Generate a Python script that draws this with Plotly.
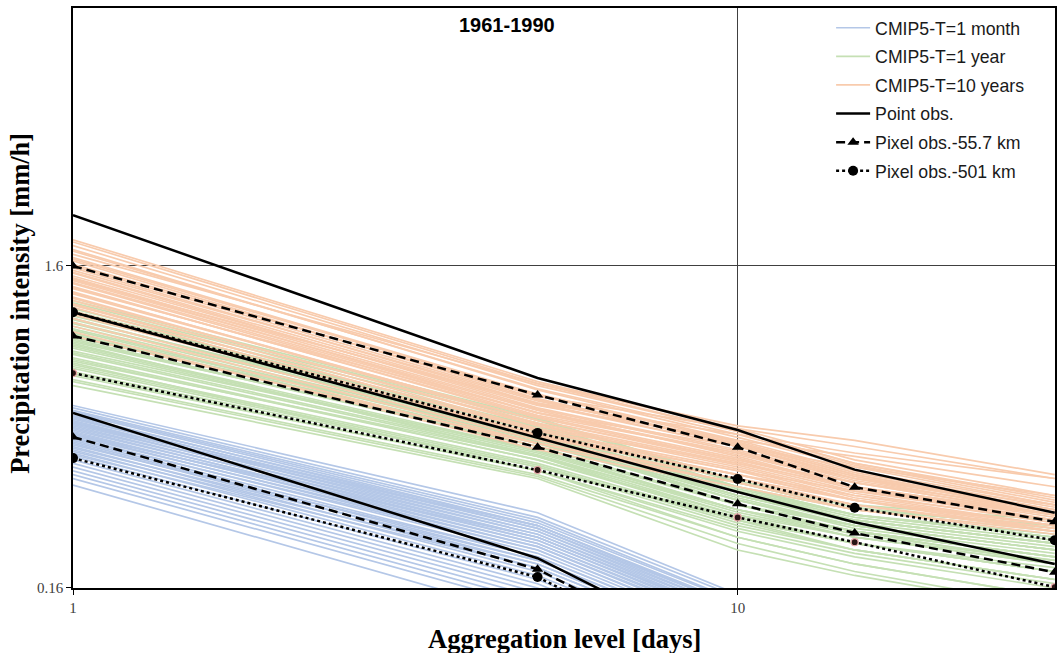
import plotly.graph_objects as go

# Aggregation levels [days]
agg_days = [1, 5, 10, 15, 30]
agg_days_month = [1, 5, 10]

# CMIP5 ensemble members, precipitation intensity [mm/h] at each aggregation level
cmip5_month = [
    [0.59, 0.274, 0.153], [0.57, 0.26, 0.146], [0.56, 0.25, 0.140], [0.55, 0.245, 0.137],
    [0.54, 0.24, 0.134], [0.53, 0.235, 0.131], [0.52, 0.23, 0.129], [0.51, 0.225, 0.126],
    [0.50, 0.22, 0.123], [0.49, 0.215, 0.120], [0.48, 0.21, 0.117], [0.47, 0.205, 0.115],
    [0.46, 0.20, 0.112], [0.455, 0.195, 0.109], [0.45, 0.19, 0.106], [0.44, 0.185, 0.104],
    [0.43, 0.18, 0.101], [0.42, 0.175, 0.098], [0.41, 0.17, 0.095], [0.40, 0.165, 0.092],
    [0.39, 0.16, 0.090], [0.38, 0.155, 0.087], [0.37, 0.15, 0.084], [0.36, 0.145, 0.081],
    [0.35, 0.14, 0.078], [0.334, 0.13, 0.073], [0.52, 0.25, 0.140], [0.48, 0.23, 0.129],
    [0.58, 0.265, 0.150], [0.565, 0.255, 0.145], [0.545, 0.25, 0.142], [0.535, 0.245, 0.140],
    [0.525, 0.24, 0.137], [0.515, 0.235, 0.134], [0.505, 0.23, 0.131], [0.495, 0.225, 0.128],
    [0.485, 0.22, 0.125], [0.475, 0.215, 0.122], [0.465, 0.21, 0.118], [0.445, 0.20, 0.113],
    [0.435, 0.195, 0.110], [0.425, 0.19, 0.107], [0.415, 0.185, 0.104],
]
cmip5_year = [
    [1.25, 0.54, 0.34, 0.28, 0.25], [1.21, 0.53, 0.34, 0.28, 0.24], [1.18, 0.52, 0.33, 0.27, 0.23],
    [1.15, 0.50, 0.33, 0.27, 0.23], [1.12, 0.51, 0.34, 0.29, 0.26], [1.09, 0.49, 0.32, 0.26, 0.22],
    [1.06, 0.48, 0.31, 0.26, 0.22], [1.04, 0.47, 0.32, 0.27, 0.23], [1.01, 0.46, 0.30, 0.25, 0.21],
    [0.99, 0.47, 0.31, 0.26, 0.22], [0.97, 0.45, 0.30, 0.25, 0.21], [0.95, 0.44, 0.29, 0.24, 0.20],
    [0.93, 0.45, 0.31, 0.26, 0.22], [0.91, 0.43, 0.28, 0.24, 0.20], [0.89, 0.42, 0.28, 0.23, 0.195],
    [0.87, 0.43, 0.29, 0.25, 0.21], [0.85, 0.41, 0.27, 0.23, 0.19], [0.83, 0.40, 0.27, 0.22, 0.185],
    [0.81, 0.41, 0.28, 0.24, 0.20], [0.79, 0.39, 0.26, 0.22, 0.18], [0.77, 0.38, 0.25, 0.21, 0.17],
    [0.75, 0.38, 0.26, 0.22, 0.18], [0.73, 0.37, 0.24, 0.20, 0.16], [0.71, 0.36, 0.23, 0.19, 0.15],
    [0.70, 0.355, 0.22, 0.18, 0.14], [0.68, 0.35, 0.21, 0.175, 0.137], [1.10, 0.47, 0.29, 0.24, 0.19],
    [0.92, 0.41, 0.26, 0.21, 0.17], [0.96, 0.48, 0.33, 0.28, 0.25], [0.80, 0.37, 0.23, 0.19, 0.15],
    [1.23, 0.535, 0.345, 0.285, 0.245], [1.16, 0.505, 0.325, 0.27, 0.235], [1.13, 0.495, 0.32, 0.265, 0.225],
    [1.07, 0.475, 0.31, 0.255, 0.215], [1.02, 0.465, 0.305, 0.25, 0.21], [0.98, 0.455, 0.30, 0.245, 0.205],
    [0.94, 0.44, 0.29, 0.24, 0.20], [0.90, 0.425, 0.28, 0.235, 0.195], [0.86, 0.415, 0.275, 0.23, 0.19],
    [0.82, 0.40, 0.265, 0.22, 0.18], [0.78, 0.385, 0.255, 0.21, 0.17], [0.74, 0.37, 0.245, 0.205, 0.165],
]
cmip5_10years = [
    [1.93, 0.70, 0.50, 0.40, 0.31], [1.85, 0.68, 0.49, 0.39, 0.30], [1.80, 0.66, 0.47, 0.38, 0.29],
    [1.74, 0.69, 0.51, 0.46, 0.36], [1.70, 0.64, 0.46, 0.37, 0.29], [1.66, 0.62, 0.45, 0.36, 0.28],
    [1.62, 0.63, 0.50, 0.44, 0.35], [1.58, 0.60, 0.44, 0.35, 0.27], [1.55, 0.61, 0.45, 0.36, 0.28],
    [1.52, 0.58, 0.43, 0.35, 0.28], [1.49, 0.59, 0.46, 0.41, 0.33], [1.46, 0.56, 0.42, 0.34, 0.27],
    [1.44, 0.57, 0.41, 0.33, 0.26], [1.41, 0.55, 0.42, 0.35, 0.29], [1.38, 0.54, 0.40, 0.33, 0.27],
    [1.36, 0.56, 0.44, 0.38, 0.31], [1.33, 0.52, 0.39, 0.32, 0.26], [1.31, 0.53, 0.40, 0.34, 0.28],
    [1.28, 0.51, 0.38, 0.31, 0.25], [1.25, 0.50, 0.39, 0.33, 0.27], [1.22, 0.49, 0.37, 0.30, 0.25],
    [1.19, 0.48, 0.36, 0.31, 0.26], [1.16, 0.47, 0.36, 0.30, 0.24], [1.13, 0.48, 0.37, 0.32, 0.27],
    [1.10, 0.46, 0.35, 0.29, 0.24], [1.07, 0.45, 0.34, 0.29, 0.245], [1.04, 0.44, 0.34, 0.28, 0.24],
    [1.00, 0.43, 0.33, 0.28, 0.235], [0.97, 0.45, 0.35, 0.30, 0.25], [1.45, 0.60, 0.48, 0.42, 0.35],
    [1.90, 0.69, 0.49, 0.39, 0.305], [1.78, 0.665, 0.48, 0.385, 0.295], [1.68, 0.635, 0.455, 0.365, 0.285],
    [1.60, 0.615, 0.445, 0.355, 0.275], [1.53, 0.595, 0.44, 0.355, 0.28], [1.47, 0.575, 0.425, 0.345, 0.275],
    [1.42, 0.56, 0.415, 0.34, 0.27], [1.37, 0.545, 0.405, 0.33, 0.265], [1.32, 0.53, 0.395, 0.325, 0.26],
    [1.27, 0.515, 0.385, 0.315, 0.255], [1.21, 0.495, 0.375, 0.305, 0.25], [1.15, 0.475, 0.36, 0.30, 0.245],
]

# Observations for return periods T=10 years, T=1 year, T=1 month
point_obs = {
    "T10": [2.30, 0.718, 0.495, 0.373, 0.274],
    "T1": [1.15, 0.468, 0.318, 0.256, 0.190],
    "T1m": [0.559, 0.198, 0.097],
}
pixel_55 = {
    "T10": [1.60, 0.636, 0.438, 0.329, 0.257],
    "T1": [0.970, 0.438, 0.292, 0.237, 0.179],
    "T1m": [0.471, 0.183, 0.088],
}
pixel_501 = {
    "T10": [1.15, 0.485, 0.349, 0.284, 0.225],
    "T1": [0.744, 0.372, 0.265, 0.222, 0.161],
    "T1m": [0.405, 0.173, 0.085],
}

fig = go.Figure()


def ensemble(members, xs, color, name, group):
    px, py = [], []
    for m in members:
        px += list(xs) + [None]
        py += list(m) + [None]
    fig.add_trace(go.Scatter(
        x=px, y=py, mode="lines", name=name, legendgroup=group,
        line=dict(color=color, width=1.7), connectgaps=False, hoverinfo="skip",
    ))


ensemble(cmip5_month, agg_days_month, "#b4c7e7", "CMIP5-T=1 month", "m")
ensemble(cmip5_year, agg_days, "#c5e0b4", "CMIP5-T=1 year", "y")
ensemble(cmip5_10years, agg_days, "#f8cbad", "CMIP5-T=10 years", "d")

for i, key in enumerate(["T10", "T1", "T1m"]):
    xs = agg_days if key != "T1m" else agg_days_month
    fig.add_trace(go.Scatter(
        x=xs, y=point_obs[key], mode="lines", name="Point obs.", legendgroup="p",
        showlegend=(i == 0), line=dict(color="black", width=2.5),
    ))
for i, key in enumerate(["T10", "T1", "T1m"]):
    xs = agg_days if key != "T1m" else agg_days_month
    fig.add_trace(go.Scatter(
        x=xs, y=pixel_55[key], mode="lines+markers", name="Pixel obs.-55.7 km",
        legendgroup="p55", showlegend=(i == 0),
        line=dict(color="black", width=2.5, dash="9px,5px"),
        marker=dict(symbol="triangle-up", size=10, color="black"),
    ))
for i, key in enumerate(["T10", "T1", "T1m"]):
    xs = agg_days if key != "T1m" else agg_days_month
    small = key == "T1"
    fig.add_trace(go.Scatter(
        x=xs, y=pixel_501[key], mode="lines+markers", name="Pixel obs.-501 km",
        legendgroup="p501", showlegend=(i == 0),
        line=dict(color="black", width=2.5, dash="dot"),
        marker=dict(symbol="circle", size=7 if small else 10,
                    color="#2a1515" if small else "black",
                    line=dict(color="#e8a8a8" if small else "black", width=1.2 if small else 0)),
    ))

axis_common = dict(
    type="log", showline=True, linecolor="black", linewidth=1.5, mirror=True,
    showgrid=True, gridcolor="#404040", gridwidth=1, zeroline=False,
    ticks="outside", ticklen=5, tickcolor="black",
    tickfont=dict(family="Liberation Serif", size=15, color="#404040"),
)

fig.update_layout(
    width=1059, height=653,
    margin=dict(l=73, r=2, t=8, b=65),
    paper_bgcolor="white", plot_bgcolor="white",
    xaxis=dict(range=[0, 1.4775], tickvals=[1, 10], ticktext=["1", "10"], **axis_common),
    yaxis=dict(range=[-0.7959, 1.0053], tickvals=[0.16, 1.6], ticktext=["0.16", "1.6"], **axis_common),
    showlegend=True,
    legend=dict(
        x=0.772, y=0.997, xanchor="left", yanchor="top", itemwidth=34,
        bgcolor="rgba(255,255,255,0)", traceorder="grouped", tracegroupgap=2.6,
        font=dict(family="Liberation Sans", size=17.7, color="#1a1a1a"),
    ),
    annotations=[
        dict(text="<b>1961-1990</b>", xref="paper", yref="paper", x=0.442, y=0.9707,
             xanchor="center", yanchor="middle", showarrow=False,
             font=dict(family="Liberation Sans", size=20, color="black")),
        dict(text="<b>Aggregation level [days]</b>", xref="paper", yref="paper", x=0.5, y=-0.088,
             xanchor="center", yanchor="middle", showarrow=False,
             font=dict(family="Liberation Serif", size=26.5, color="black")),
        dict(text="<b>Precipitation intensity [mm/h]</b>", xref="paper", yref="paper",
             x=-0.0539, y=0.490, xanchor="center", yanchor="middle", textangle=-90,
             showarrow=False, font=dict(family="Liberation Serif", size=26.5, color="black")),
    ],
)

fig.write_html("out.html")
